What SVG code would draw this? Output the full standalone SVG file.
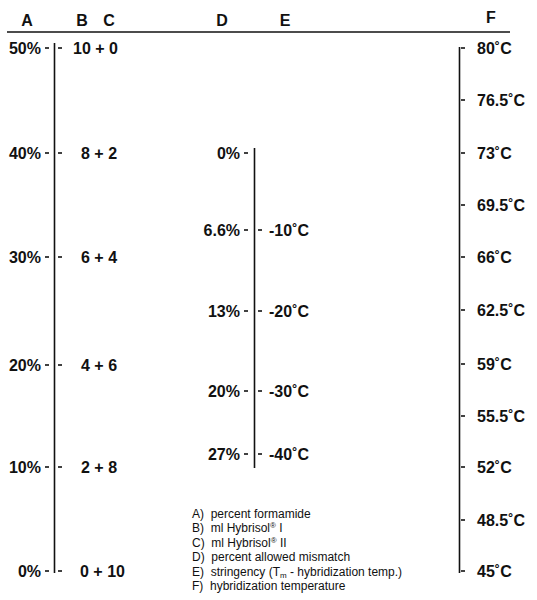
<svg xmlns="http://www.w3.org/2000/svg" width="537" height="600" viewBox="0 0 537 600">
<style>
text{font-family:"Liberation Sans",Arial,sans-serif;fill:#111}
.h{font-size:16px;font-weight:bold}
.l{font-size:16px;font-weight:bold}
.r{text-anchor:end}
.m{text-anchor:middle}
.g{font-size:12px;white-space:pre}
.ax{stroke:#111;stroke-width:1.6;fill:none}
.tk{stroke:#111;stroke-width:1.6}
</style>
<rect width="537" height="600" fill="#fff"/>
<g id="header">
<text class="h m" x="27" y="26">A</text>
<text class="h m" x="82" y="26">B</text>
<text class="h m" x="109" y="26">C</text>
<text class="h m" x="222" y="26">D</text>
<text class="h m" x="285" y="26">E</text>
<text class="h m" x="491" y="23">F</text>
<line class="ax" x1="7" y1="32" x2="510" y2="32"/>
</g>
<g id="connectors">
<line class="ax" x1="54.5" y1="43" x2="54.5" y2="573"/>
<line class="ax" x1="254.5" y1="148" x2="254.5" y2="468"/>
<line class="ax" x1="459.5" y1="47" x2="459.5" y2="573"/>
</g>
<g id="axisA">
<g class="tk">
<line x1="45" y1="48" x2="49" y2="48"/><line x1="58" y1="48" x2="62" y2="48"/>
<line x1="45" y1="153" x2="49" y2="153"/><line x1="58" y1="153" x2="62" y2="153"/>
<line x1="45" y1="257" x2="49" y2="257"/><line x1="58" y1="257" x2="62" y2="257"/>
<line x1="45" y1="365" x2="49" y2="365"/><line x1="58" y1="365" x2="62" y2="365"/>
<line x1="45" y1="467" x2="49" y2="467"/><line x1="58" y1="467" x2="62" y2="467"/>
<line x1="45" y1="571" x2="49" y2="571"/><line x1="58" y1="571" x2="62" y2="571"/>
</g>
<text class="l r" x="41" y="53.5">50%</text>
<text class="l r" x="41" y="158.5">40%</text>
<text class="l r" x="41" y="262.5">30%</text>
<text class="l r" x="41" y="370.5">20%</text>
<text class="l r" x="41" y="472.5">10%</text>
<text class="l r" x="41" y="576.5">0%</text>
</g>
<g id="axisBC">
<text class="l" x="73" y="53.5">10 + 0</text>
<text class="l" x="81" y="158.5">8 + 2</text>
<text class="l" x="81" y="262.5">6 + 4</text>
<text class="l" x="81" y="370.5">4 + 6</text>
<text class="l" x="81" y="472.5">2 + 8</text>
<text class="l" x="80" y="576.5">0 + 10</text>
</g>
<g id="axisDE">
<g class="tk">
<line x1="244" y1="153" x2="248" y2="153"/>
<line x1="244" y1="230" x2="248" y2="230"/><line x1="258" y1="230" x2="262" y2="230"/>
<line x1="244" y1="311" x2="248" y2="311"/><line x1="258" y1="311" x2="262" y2="311"/>
<line x1="244" y1="391" x2="248" y2="391"/><line x1="258" y1="391" x2="262" y2="391"/>
<line x1="244" y1="454" x2="248" y2="454"/><line x1="258" y1="454" x2="262" y2="454"/>
</g>
<text class="l r" x="240" y="158.5">0%</text>
<text class="l r" x="240" y="235.5">6.6%</text>
<text class="l r" x="240" y="316.5">13%</text>
<text class="l r" x="240" y="396.5">20%</text>
<text class="l r" x="240" y="459.5">27%</text>
<text class="l" x="269" y="235.5">-10˚C</text>
<text class="l" x="269" y="316.5">-20˚C</text>
<text class="l" x="269" y="396.5">-30˚C</text>
<text class="l" x="269" y="459.5">-40˚C</text>
</g>
<g id="axisF">
<g class="tk">
<line x1="461" y1="48" x2="465" y2="48"/>
<line x1="461" y1="100" x2="465" y2="100"/>
<line x1="461" y1="153" x2="465" y2="153"/>
<line x1="461" y1="205" x2="465" y2="205"/>
<line x1="461" y1="257" x2="465" y2="257"/>
<line x1="461" y1="310" x2="465" y2="310"/>
<line x1="461" y1="364" x2="465" y2="364"/>
<line x1="461" y1="416" x2="465" y2="416"/>
<line x1="461" y1="467" x2="465" y2="467"/>
<line x1="461" y1="520" x2="465" y2="520"/>
<line x1="461" y1="571" x2="465" y2="571"/>
</g>
<text class="l" x="477" y="53.5">80˚C</text>
<text class="l" x="477" y="105.5">76.5˚C</text>
<text class="l" x="477" y="158.5">73˚C</text>
<text class="l" x="477" y="210.5">69.5˚C</text>
<text class="l" x="477" y="262.5">66˚C</text>
<text class="l" x="477" y="315.5">62.5˚C</text>
<text class="l" x="477" y="369.5">59˚C</text>
<text class="l" x="477" y="421.5">55.5˚C</text>
<text class="l" x="477" y="472.5">52˚C</text>
<text class="l" x="477" y="525.5">48.5˚C</text>
<text class="l" x="477" y="576.5">45˚C</text>
</g>
<g id="legend">
<text class="g" x="192" y="518">A)  percent formamide</text>
<text class="g" x="192" y="532">B)  ml Hybrisol<tspan font-size="8" dy="-4">®</tspan><tspan dy="4"> I</tspan></text>
<text class="g" x="192" y="547">C)  ml Hybrisol<tspan font-size="8" dy="-4">®</tspan><tspan dy="4"> II</tspan></text>
<text class="g" x="192" y="561">D)  percent allowed mismatch</text>
<text class="g" x="192" y="576">E)  stringency (T<tspan font-size="8" dy="2">m</tspan><tspan dy="-2"> - hybridization temp.)</tspan></text>
<text class="g" x="192" y="590">F)  hybridization temperature</text>
</g>
</svg>
